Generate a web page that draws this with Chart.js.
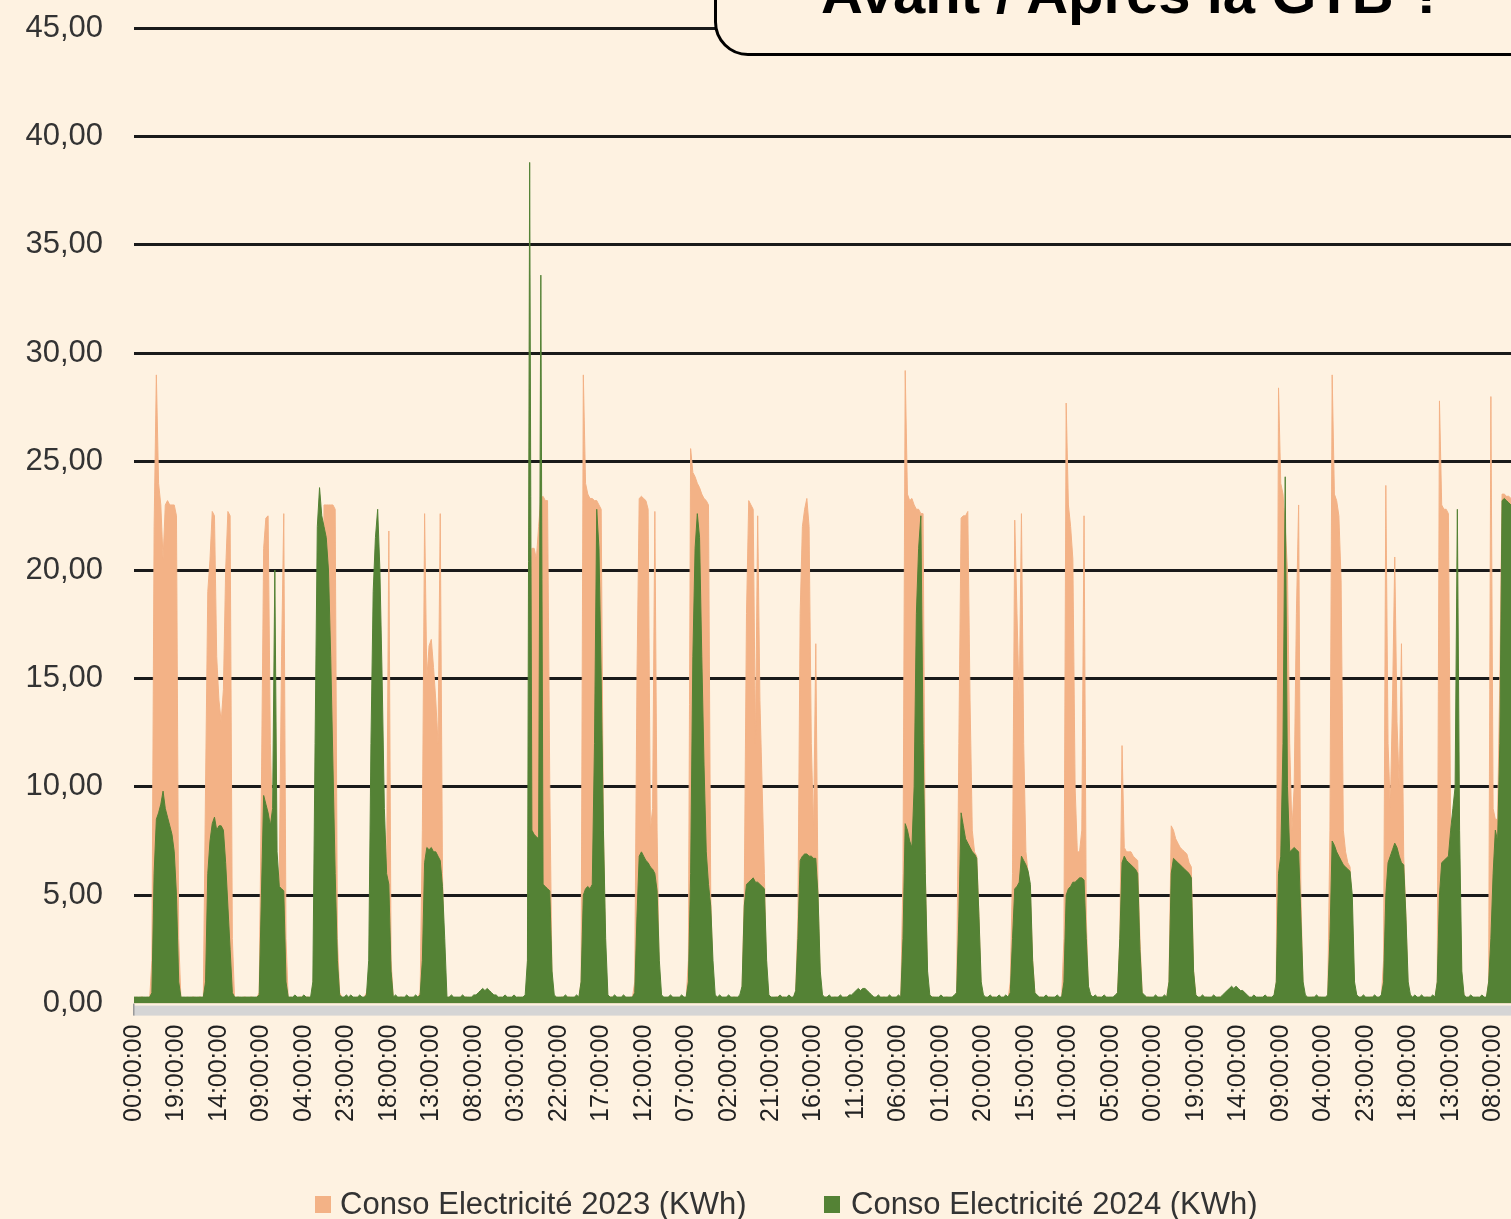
<!DOCTYPE html>
<html lang="fr">
<head>
<meta charset="utf-8">
<script src="https://cdn.jsdelivr.net/npm/chart.js@4.4.1/dist/chart.umd.min.js"></script>
<style>
html,body{margin:0;padding:0;background:#FEF2E1;overflow:hidden;width:1511px;height:1219px;}
#wrap{position:absolute;left:0;top:0;width:1511px;height:1219px;}
#titlebox{position:absolute;left:714px;top:-100px;width:900px;height:150px;border:3px solid #000;border-radius:34px;background:#FEF2E1;}
#title{position:absolute;left:821px;top:-36px;font:bold 58px "Liberation Sans",Arial,sans-serif;line-height:58px;white-space:nowrap;color:#000;}
.lg{position:absolute;font:31px "Liberation Sans",Arial,sans-serif;line-height:31px;color:#333;white-space:nowrap;top:1188px;}
.sw{position:absolute;top:1196px;width:16px;height:17px;}
</style>
</head>
<body>
<div id="wrap"><canvas id="c"></canvas></div>
<div id="titlebox"></div>
<div id="title">Avant / Après la GTB ?</div>
<div id="legend"></div>
<script>
// ---- Data (hourly values, one row per day: hours 00 → 23) ----
const seriesLabels = ["Conso Electricité 2023 (KWh)", "Conso Electricité 2024 (KWh)"];

const xTickLabels = ["00:00:00","19:00:00","14:00:00","09:00:00","04:00:00","23:00:00","18:00:00","13:00:00","08:00:00","03:00:00","22:00:00","17:00:00","12:00:00","07:00:00","02:00:00","21:00:00","16:00:00","11:00:00","06:00:00","01:00:00","20:00:00","15:00:00","10:00:00","05:00:00","00:00:00","19:00:00","14:00:00","09:00:00","04:00:00","23:00:00","18:00:00","13:00:00","08:00:00"];

const yTickLabels = ["0,00","5,00","10,00","15,00","20,00","25,00","30,00","35,00","40,00","45,00"];

const conso2023 = [
0.2,0.3,0.2,0.3,0.3,0.2,0.3,0.2, 2,22,29,24,23,20.5,23,23.2,23,23,23,22.5, 3,0.2,0.3,0.2,
0.3,0.2,0.3,0.3,0.2,0.3,0.3,0.2, 10,19,20.5,22.7,22.5,16,14,13,14.5,20,22.7,22.5, 3,0.2,0.3,0.3,
0.2,0.3,0.3,0.2,0.3,0.3,0.2,0.3, 0.5,10,21,22.4,22.5,12,8,8,6,6,16,22.6, 3,0.2,0.3,0.2,
0.3,0.2,0.3,0.3,0.2,0.3,0.3,0.2, 0.5,3,5,8,10,23,23,23,23,23,22.8,3, 0.5,0.3,0.2,0.3,
0.2,0.3,0.3,0.2,0.3,0.3,0.2,0.3, 0.5,1,3,6,8,10,10,10,8,6,21.8,2, 0.2,0.3,0.2,0.3,
0.3,0.2,0.3,0.3,0.2,0.3,0.2,0.3, 0.5,8,22.6,15,16.5,16.8,15.5,14,12,22.6,6,1, 0.2,0.3,0.3,0.2,
0.3,0.2,0.3,0.2,0.3,0.3,0.2,0.3, 0.3,0.3,0.4,0.5,0.5,0.5,0.5,0.5,0.4,0.3,0.3,0.2, 0.3,0.2,0.3,0.3,
0.2,0.3,0.3,0.2,0.3,0.2,0.3,0.2, 0.5,15,21,21,20.5,22,23.3,23.4,23.2,23.2,10,1, 0.2,0.3,0.2,0.3,
0.3,0.2,0.3,0.3,0.2,0.3,0.3,0.2, 1,29,24,23.5,23.3,23.3,23.2,23.2,23,22.8,8,2, 0.2,0.3,0.3,0.2,
0.2,0.3,0.2,0.3,0.3,0.2,0.3,0.3, 1,15,23.3,23.4,23.3,23.2,22.8,8,9,22.7,8,1, 0.2,0.3,0.2,0.3,
0.3,0.3,0.2,0.3,0.2,0.3,0.3,0.2, 2,25.6,24.5,24.3,24,23.8,23.5,23.3,23.2,23,5,1, 0.2,0.3,0.3,0.2,
0.2,0.3,0.3,0.2,0.3,0.3,0.2,0.3, 0.5,5,18,23.2,23,22.8,12,22.5,14,10,6,1, 0.2,0.3,0.2,0.3,
0.3,0.2,0.3,0.3,0.2,0.3,0.2,0.3, 0.5,4,18,22,22.8,23.3,22,12,8,16.6,5,1, 0.2,0.3,0.3,0.2,
0.2,0.3,0.3,0.2,0.3,0.2,0.3,0.3, 0.3,0.3,0.4,0.5,0.5,0.5,0.6,0.5,0.5,0.4,0.3,0.3, 0.2,0.3,0.2,0.3,
0.3,0.2,0.3,0.3,0.2,0.3,0.3,0.2, 6,29.2,23.5,23.2,23.3,23,22.8,22.8,22.6,22.6,6,1, 0.2,0.3,0.3,0.2,
0.2,0.3,0.2,0.3,0.3,0.2,0.3,0.3, 0.5,12,22.4,22.5,22.5,22.7,14,8,7,6.8,4,0.5, 0.2,0.3,0.2,0.3,
0.3,0.3,0.2,0.3,0.2,0.3,0.3,0.2, 1,6,22.3,18,14,22.6,12,7,6,5,2,0.5, 0.2,0.3,0.3,0.2,
0.2,0.3,0.3,0.2,0.3,0.3,0.2,0.3, 3,27.7,23,22,20.5,10,7,7,8,22.5,4,0.5, 0.2,0.3,0.2,0.3,
0.3,0.2,0.3,0.3,0.2,0.3,0.2,0.3, 0.5,3,11.9,7.2,7,7,7,6.8,6.7,6.6,3,0.5, 0.2,0.3,0.3,0.2,
0.2,0.3,0.3,0.2,0.3,0.2,0.3,1, 8.2,8,7.6,7.4,7.2,7.1,7,6.9,6.5,6.3,1.5,0.4, 0.2,0.3,0.2,0.3,
0.3,0.2,0.3,0.3,0.2,0.3,0.3,0.2, 0.4,0.5,0.5,0.6,0.5,0.6,0.6,0.5,0.5,0.4,0.3,0.3, 0.2,0.3,0.3,0.2,
0.2,0.3,0.2,0.3,0.3,0.2,0.3,1, 28.4,24,23.5,22,20,12,8,10,18,23,5,0.5, 0.2,0.3,0.2,0.3,
0.3,0.2,0.3,0.3,0.2,0.3,0.2,8, 29,23.5,23.2,22.5,19.5,8,7,6.5,6.3,4,0.5,0.4, 0.2,0.3,0.3,0.2,
0.2,0.3,0.3,0.2,0.3,0.2,0.3,2, 23.9,12,9,14,20.6,13,10,16.6,6.8,4,0.5,0.4, 0.2,0.3,0.2,0.3,
0.3,0.2,0.3,0.3,0.2,0.3,0.2,1, 27.8,23,22.8,22.8,22.6,8,8,8,8,5,1,0.4, 0.2,0.3,0.3,0.2,
0.2,0.3,0.2,0.3,0.3,0.2,1,28, 9,8.5,8.5,15,23.5,23.5,23.4,23.4,23.3
];

const conso2024 = [
0.3,0.3,0.3,0.3,0.3,0.3,0.3,0.3, 0.5,6,8.5,8.8,9.2,9.8,9,8.6,8.2,7.8,7,5, 1,0.3,0.3,0.3,
0.3,0.3,0.3,0.3,0.3,0.3,0.3,0.3, 1,6,7.5,8.3,8.6,8,8.2,8.2,8,6.5,4.5,2.5, 0.5,0.3,0.3,0.3,
0.3,0.3,0.3,0.3,0.3,0.3,0.3,0.3, 0.4,5,9.6,9.2,8.8,8.2,9,20,7,5.4,5.3,5.2, 1,0.3,0.3,0.3,
0.4,0.3,0.3,0.3,0.4,0.3,0.3,0.3, 1,12,22,23.8,22.5,22,21.5,20,16,11,6,2, 0.4,0.3,0.3,0.4,
0.3,0.4,0.3,0.3,0.3,0.4,0.3,0.3, 0.4,2,12,19,21.5,22.8,20,15,9,6,5.5,1.5, 0.3,0.4,0.3,0.3,
0.3,0.3,0.4,0.3,0.3,0.3,0.4,0.3, 0.4,2,6.5,7.2,7.1,7.2,7,7,6.8,6.6,5.4,3, 0.3,0.3,0.4,0.3,
0.3,0.3,0.3,0.4,0.3,0.3,0.3,0.3, 0.4,0.4,0.5,0.6,0.7,0.6,0.7,0.6,0.5,0.4,0.4,0.3, 0.3,0.3,0.4,0.3,
0.3,0.3,0.4,0.3,0.3,0.3,0.3,0.4, 2,38.8,8,7.8,7.7,7.6,33.6,5.5,5.4,5.3,5.2,1.5, 0.4,0.3,0.3,0.3,
0.3,0.4,0.3,0.3,0.3,0.3,0.4,0.3, 1,5,5.3,5.4,5.3,5.5,12,22.8,21,15,8,3, 0.4,0.3,0.3,0.4,
0.3,0.3,0.3,0.4,0.3,0.3,0.3,0.3, 0.5,4,6.8,7,6.8,6.6,6.5,6.3,6.2,6,5.2,2, 0.4,0.3,0.3,0.3,
0.4,0.3,0.3,0.3,0.3,0.4,0.3,0.3, 1,6,16,21,22.6,21.5,16,11,7,5.5,4.5,2, 0.4,0.3,0.4,0.3,
0.3,0.3,0.4,0.3,0.3,0.3,0.3,0.4, 0.8,4.5,5.5,5.6,5.7,5.8,5.6,5.6,5.5,5.4,5.3,2, 0.4,0.3,0.3,0.3,
0.3,0.4,0.3,0.3,0.3,0.4,0.3,0.3, 0.6,3,6.6,6.8,6.9,6.9,6.8,6.8,6.7,6.7,5,1.5, 0.4,0.3,0.3,0.4,
0.3,0.3,0.3,0.3,0.4,0.3,0.3,0.3, 0.4,0.4,0.5,0.6,0.7,0.6,0.7,0.7,0.6,0.5,0.4,0.3, 0.3,0.4,0.3,0.3,
0.3,0.3,0.4,0.3,0.3,0.3,0.4,0.3, 3,8.3,8,7.5,7.2,10,18,21,22.5,12,6,1.5, 0.4,0.3,0.3,0.3,
0.3,0.4,0.3,0.3,0.3,0.3,0.3,0.4, 0.5,4,8.8,8.2,7.6,7.4,7.2,7,6.9,6.7,4,1, 0.4,0.3,0.3,0.4,
0.3,0.3,0.3,0.4,0.3,0.3,0.4,0.3, 0.5,3,5.3,5.4,5.6,6.8,6.6,6.4,6.1,5.5,2,0.5, 0.4,0.3,0.3,0.3,
0.4,0.3,0.3,0.3,0.3,0.4,0.3,0.3, 1,5,5.3,5.4,5.6,5.6,5.7,5.8,5.8,5.7,3,0.8, 0.4,0.3,0.4,0.3,
0.3,0.3,0.4,0.3,0.3,0.3,0.3,0.4, 0.5,3,6.5,6.8,6.6,6.5,6.4,6.3,6.2,6,2.5,0.5, 0.4,0.3,0.3,0.3,
0.3,0.4,0.3,0.3,0.3,0.4,0.3,1, 6,6.7,6.6,6.5,6.4,6.3,6.2,6.1,6,5.8,1.5,0.4, 0.3,0.3,0.4,0.3,
0.3,0.3,0.3,0.4,0.3,0.3,0.3,0.4, 0.5,0.6,0.7,0.8,0.7,0.8,0.7,0.6,0.6,0.5,0.4,0.3, 0.3,0.4,0.3,0.3,
0.3,0.3,0.4,0.3,0.3,0.3,0.4,1, 6,6.8,12,24.3,10,7,7.1,7.2,7.1,7,4,1, 0.4,0.3,0.3,0.3,
0.3,0.4,0.3,0.3,0.3,0.3,0.4,3, 7.5,7.3,7,6.8,6.6,6.4,6.3,6.2,6.1,5,1,0.4, 0.3,0.3,0.4,0.3,
0.3,0.3,0.3,0.4,0.3,0.3,0.4,1, 5,6.5,6.8,7.1,7.4,7.2,6.8,6.5,6.4,4,1,0.4, 0.3,0.4,0.3,0.3,
0.4,0.3,0.3,0.3,0.3,0.4,0.3,1, 5,6.5,6.6,6.7,6.8,8,9,10,22.8,8,1.5,0.4, 0.3,0.3,0.4,0.3,
0.3,0.3,0.3,0.4,0.3,0.3,1,3, 6,8,7.5,12,23.2,23.3,23.2,23.1,23
];

// ---- Styles ----
const ORANGE = "rgb(243,178,134)";
const GREEN = "rgb(84,130,53)";
const FONT = '"Liberation Sans", Arial, sans-serif';

// HTML legend
const legend = document.getElementById('legend');
[[ORANGE, 315, 340], [GREEN, 824, 851]].forEach((s, i) => {
  const sw = document.createElement('div'); sw.className = 'sw';
  sw.style.left = s[1] + 'px'; sw.style.background = s[0];
  const tx = document.createElement('div'); tx.className = 'lg';
  tx.style.left = s[2] + 'px'; tx.textContent = seriesLabels[i];
  legend.appendChild(sw); legend.appendChild(tx);
});

const floorPlugin = {
  id: 'floor',
  afterDraw(chart) {
    const {ctx, chartArea} = chart;
    ctx.save();
    ctx.fillStyle = '#d5d5d5';
    ctx.fillRect(chartArea.left, chartArea.bottom + 2, chartArea.right - chartArea.left, 10);
    ctx.fillStyle = '#9a9a9a';
    ctx.fillRect(chartArea.left - 1, chartArea.bottom, 1.5, 12);
    ctx.restore();
  }
};

const toXY = arr => arr.map((v, i) => ({x: i, y: v}));

new Chart(document.getElementById('c'), {
  type: 'line',
  data: {
    datasets: [
      {label: seriesLabels[0], data: toXY(conso2023), backgroundColor: ORANGE, borderColor: ORANGE,
       borderWidth: 1, fill: 'origin', pointRadius: 0, tension: 0, order: 2},
      {label: seriesLabels[1], data: toXY(conso2024), backgroundColor: GREEN, borderColor: GREEN,
       borderWidth: 1, fill: 'origin', pointRadius: 0, tension: 0, order: 1}
    ]
  },
  options: {
    responsive: true,
    maintainAspectRatio: false,
    animation: false,
    layout: {padding: {top: 28, left: 0, right: 0, bottom: 0}},
    plugins: {legend: {display: false}, tooltip: {enabled: false}},
    scales: {
      x: {
        type: 'linear', min: 0, max: conso2023.length - 1,
        grid: {display: false, drawTicks: false},
        border: {display: false},
        ticks: {
          stepSize: 19, includeBounds: false, autoSkip: false,
          minRotation: 90, maxRotation: 90, padding: 21,
          color: '#222', font: {family: FONT, size: 25},
          callback: (v, i) => xTickLabels[i]
        },
        afterFit: s => { s.height = 215.4; s.paddingLeft = 0; s.paddingRight = 0; }
      },
      y: {
        min: 0, max: 45,
        grid: {
          color: c => (c.tick && c.tick.value === 0) ? 'rgba(0,0,0,0)' : '#1a1a1a',
          lineWidth: 3, drawTicks: false
        },
        border: {display: false},
        ticks: {
          stepSize: 5, padding: 31, color: '#333',
          font: {family: FONT, size: 31},
          callback: (v, i) => yTickLabels[i]
        },
        afterFit: s => { s.width = 134; s.paddingTop = 0; s.paddingBottom = 0; }
      }
    }
  },
  plugins: [floorPlugin]
});
</script>
</body>
</html>
